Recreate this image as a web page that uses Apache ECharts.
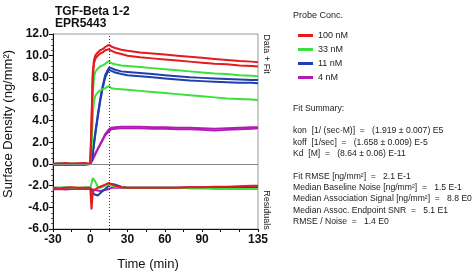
<!DOCTYPE html>
<html>
<head>
<meta charset="utf-8">
<script src="https://cdn.jsdelivr.net/npm/echarts@6/dist/echarts.min.js"></script>
<style>
  html, body { margin: 0; padding: 0; background: #fff; }
  #kinetics_chart { width: 475px; height: 272px; }
</style>
</head>
<body>
<div id="kinetics_chart"></div>
<script>
// time points (min) shared by every trace
const times = [-30, -25, -20, -15, -10, -5, 0, 1, 2, 3, 4, 6, 8, 10, 12, 15,
  17, 20, 25, 30, 40, 50, 60, 70, 80, 90, 100, 110, 120, 130, 135];

// Data + Fit traces (ng/mm2), two replicates per concentration
const red100a = [0.05, 0.0, 0.1, 0.0, 0.05, 0.1, 0.0, 4.0, 8.5, 9.6, 10.0, 10.3, 10.5, 10.6, 10.8, 11.0,
  10.85, 10.7, 10.55, 10.45, 10.3, 10.2, 10.1, 10.0, 9.9, 9.8, 9.7, 9.6, 9.5, 9.45, 9.4];
const red100b = [0.0, 0.05, 0.0, 0.05, 0.0, 0.05, 0.0, 3.5, 8.0, 9.3, 9.7, 10.0, 10.2, 10.3, 10.5, 10.6,
  10.45, 10.3, 10.15, 10.0, 9.85, 9.75, 9.65, 9.55, 9.45, 9.35, 9.25, 9.2, 9.1, 9.05, 9.0];
const green33a = [0.0, 0.05, 0.0, 0.05, 0.0, 0.0, 0.0, 2.5, 6.5, 8.0, 8.5, 8.8, 9.0, 9.1, 9.25, 9.5,
  9.3, 9.2, 9.1, 9.05, 8.95, 8.85, 8.75, 8.65, 8.55, 8.45, 8.35, 8.3, 8.2, 8.15, 8.1];
const green33b = [0.0, 0.0, 0.05, 0.0, 0.05, 0.0, 0.0, 1.5, 4.5, 5.8, 6.3, 6.6, 6.8, 6.9, 7.0, 7.2,
  7.0, 6.95, 6.9, 6.85, 6.75, 6.65, 6.55, 6.45, 6.35, 6.25, 6.15, 6.05, 6.0, 5.95, 5.9];
const blue11a = [0.0, 0.0, 0.05, 0.0, 0.0, 0.05, 0.0, 0.3, 1.0, 2.0, 2.9, 4.5, 6.0, 7.2, 8.2, 8.9,
  8.85, 8.7, 8.55, 8.5, 8.4, 8.3, 8.2, 8.1, 8.0, 7.95, 7.9, 7.85, 7.8, 7.75, 7.75];
const blue11b = [0.0, 0.05, 0.0, 0.0, 0.05, 0.0, 0.0, 0.3, 0.9, 1.8, 2.7, 4.3, 5.8, 7.0, 8.0, 8.7,
  8.6, 8.45, 8.3, 8.2, 8.1, 8.0, 7.9, 7.8, 7.7, 7.65, 7.6, 7.55, 7.5, 7.5, 7.45];
const purple4a = [-0.1, -0.05, -0.1, -0.1, -0.05, -0.1, 0.0, 0.2, 0.45, 0.7, 0.95, 1.4, 1.85, 2.3, 2.75, 3.2,
  3.35, 3.4, 3.45, 3.45, 3.45, 3.4, 3.4, 3.35, 3.35, 3.3, 3.25, 3.3, 3.35, 3.4, 3.4];
const purple4b = [-0.1, -0.1, -0.05, -0.1, -0.1, -0.05, 0.0, 0.2, 0.4, 0.65, 0.9, 1.35, 1.8, 2.2, 2.65, 3.0,
  3.2, 3.25, 3.3, 3.3, 3.3, 3.25, 3.25, 3.2, 3.2, 3.15, 3.1, 3.15, 3.2, 3.25, 3.3];

// residual traces, drawn around the -2.2 offset
const redRes = [-2.2, -2.25, -2.2, -2.15, -2.2, -2.2, -2.2, -4.2, -2.6, -2.4, -2.3, -2.2, -2.1, -2.0, -1.9, -1.75,
  -1.85, -2.0, -2.15, -2.2, -2.2, -2.2, -2.2, -2.2, -2.15, -2.15, -2.1, -2.1, -2.05, -2.0, -2.0];
const greenRes = [-2.2, -2.2, -2.15, -2.2, -2.2, -2.2, -2.2, -1.8, -1.3, -1.2, -1.6, -2.1, -2.2, -2.1, -2.0, -1.9,
  -2.0, -2.1, -2.15, -2.2, -2.2, -2.2, -2.2, -2.2, -2.25, -2.25, -2.3, -2.3, -2.3, -2.3, -2.3];
const blueRes = [-2.2, -2.2, -2.2, -2.2, -2.25, -2.2, -2.2, -2.3, -2.6, -2.8, -2.9, -2.9, -2.7, -2.5, -2.3, -2.0,
  -1.85, -1.9, -2.1, -2.2, -2.2, -2.2, -2.2, -2.2, -2.2, -2.2, -2.2, -2.2, -2.2, -2.2, -2.2];
const purpleRes = [-2.35, -2.3, -2.35, -2.3, -2.3, -2.3, -2.3, -2.3, -2.35, -2.35, -2.4, -2.45, -2.5, -2.45, -2.4, -2.3,
  -2.2, -2.2, -2.2, -2.2, -2.2, -2.2, -2.2, -2.2, -2.15, -2.15, -2.15, -2.15, -2.15, -2.15, -2.15];

const concNames = ['100 nM', '33 nM', '11 nM', '4 nM'];
const xLabelValues = [-30, 0, 30, 60, 90, 135];
const xTickValues = [-30, -15, 0, 15, 30, 45, 60, 75, 90, 105, 120, 135];
const stepEnd = 15;

const summaryLines = [
  'Fit Summary:',
  '',
  'kon  [1/ (sec·M)]  =   (1.919 ± 0.007) E5',
  'koff  [1/sec]  =   (1.658 ± 0.009) E-5',
  'Kd  [M]  =   (8.64 ± 0.06) E-11',
  '',
  'Fit RMSE [ng/mm²]  =   2.1 E-1',
  'Median Baseline Noise [ng/mm²]  =   1.5 E-1',
  'Median Association Signal [ng/mm²]  =   8.8 E0',
  'Median Assoc. Endpoint SNR  =   5.1 E1',
  'RMSE / Noise  =   1.4 E0'
];

const colors = { '100 nM': '#e41a1c', '33 nM': '#3be03a', '11 nM': '#1f3fae', '4 nM': '#b01cb5' };
const font = 'Liberation Sans, Arial, sans-serif';

function trace(name, vals) {
  return {
    name: name,
    type: 'line',
    data: times.map((t, i) => [t, vals[i]]),
    showSymbol: false,
    smooth: false,
    lineStyle: { width: 2, color: colors[name] },
    itemStyle: { color: colors[name] },
    emphasis: { disabled: true },
    z: 3
  };
}

const series = [
  trace('4 nM', purpleRes),
  trace('11 nM', blueRes),
  trace('33 nM', greenRes),
  trace('100 nM', redRes),
  trace('4 nM', purple4a),
  trace('4 nM', purple4b),
  trace('11 nM', blue11a),
  trace('11 nM', blue11b),
  trace('33 nM', green33a),
  trace('33 nM', green33b),
  trace('100 nM', red100a),
  trace('100 nM', red100b)
];
series[0].markLine = {
  silent: true,
  symbol: 'none',
  label: { show: false },
  data: [
    { yAxis: 0, lineStyle: { color: '#888', width: 1, type: 'solid' } },
    { xAxis: stepEnd, lineStyle: { color: '#333', width: 1, type: [1, 2] } }
  ]
};

let summaryTop = 104;
const summaryGraphics = summaryLines.map((line, i) => ({
  type: 'text',
  left: 293,
  top: summaryTop + i * 11.3,
  style: { text: line, font: '8.6px ' + font, fill: '#222' }
}));

const chart = echarts.init(document.getElementById('kinetics_chart'));
chart.setOption({
  backgroundColor: '#fff',
  animation: false,
  grid: {
    left: 53, right: 217, top: 34, bottom: 43,
    outerBoundsMode: 'none',
    show: true, borderColor: '#999', borderWidth: 1
  },
  legend: {
    data: concNames,
    orient: 'vertical',
    left: 293,
    top: 26,
    icon: 'rect',
    itemWidth: 15,
    itemHeight: 3,
    itemGap: 5,
    selectedMode: false,
    textStyle: { fontFamily: font, fontSize: 9, color: '#222' }
  },
  xAxis: {
    type: 'value',
    min: -30,
    max: 135,
    splitLine: { show: false },
    axisLine: { onZero: false, lineStyle: { color: '#111', width: 1 } },
    axisTick: { customValues: xTickValues, length: 3, lineStyle: { color: '#111' } },
    axisLabel: {
      customValues: xLabelValues,
      fontFamily: font, fontSize: 12, fontWeight: 'bold', color: '#111', margin: 5
    },
    name: 'Time (min)',
    nameLocation: 'middle',
    nameGap: 29,
    nameTextStyle: { fontFamily: font, fontSize: 13, color: '#111', padding: [0, 15, 0, 0] }
  },
  yAxis: {
    type: 'value',
    min: -6,
    max: 12,
    interval: 2,
    splitLine: { show: false },
    axisLine: { show: true, onZero: false, lineStyle: { color: '#111', width: 1 } },
    axisTick: { show: true, length: 4, lineStyle: { color: '#111' } },
    minorTick: { show: true, splitNumber: 4, length: 2, lineStyle: { color: '#555' } },
    axisLabel: {
      formatter: v => v.toFixed(1),
      fontFamily: font, fontSize: 12, fontWeight: 'bold', color: '#111', margin: 4
    }
  },
  graphic: [
    { type: 'text', left: 55, top: 6, style: { text: 'TGF-Beta 1-2', font: 'bold 12px ' + font, fill: '#111' } },
    { type: 'text', left: 55, top: 18, style: { text: 'EPR5443', font: 'bold 12px ' + font, fill: '#111' } },
    { type: 'text', left: 293, top: 11, style: { text: 'Probe Conc.', font: '9px ' + font, fill: '#222' } },
    {
      type: 'text', x: 8, y: 124, rotation: Math.PI / 2,
      style: { text: 'Surface Density (ng/mm²)', font: '13px ' + font, fill: '#111', align: 'center', verticalAlign: 'middle' }
    },
    {
      type: 'text', x: 266, y: 54, rotation: -Math.PI / 2,
      style: { text: 'Data + Fit', font: '9px ' + font, fill: '#222', align: 'center', verticalAlign: 'middle' }
    },
    {
      type: 'text', x: 266, y: 210, rotation: -Math.PI / 2,
      style: { text: 'Residuals', font: '9px ' + font, fill: '#222', align: 'center', verticalAlign: 'middle' }
    }
  ].concat(summaryGraphics),
  series: series
});
</script>
</body>
</html>
